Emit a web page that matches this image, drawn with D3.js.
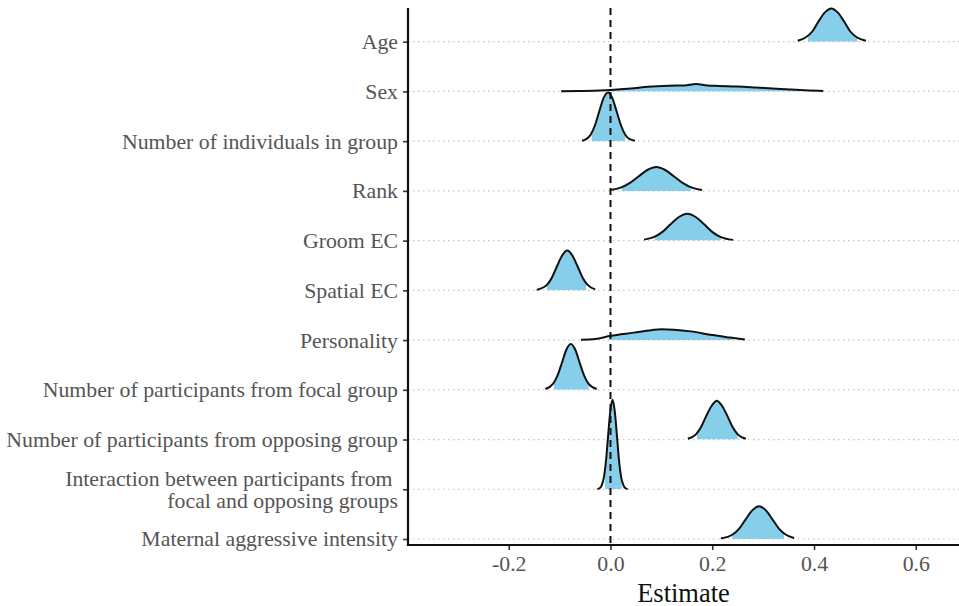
<!DOCTYPE html>
<html>
<head>
<meta charset="utf-8">
<script src="https://cdn.jsdelivr.net/npm/d3@7"></script>
<style>
body { margin:0; background:#fff; }
text { font-family:"Liberation Serif","Times New Roman",serif; }
</style>
</head>
<body>
<svg></svg>
<script>
// rows, top to bottom
var categories = [
  "Age",
  "Sex",
  "Number of individuals in group",
  "Rank",
  "Groom EC",
  "Spatial EC",
  "Personality",
  "Number of participants from focal group",
  "Number of participants from opposing group",
  "Interaction between participants from \nfocal and opposing groups",
  "Maternal aggressive intensity"
];

// density outline: estimate values and heights (in rows)
var densityX = [
  [0.368,0.384,0.397,0.409,0.4215,0.434,0.4465,0.459,0.471,0.484,0.502],
  [-0.097,-0.06,-0.02,0.0,0.04,0.074,0.115,0.145,0.168,0.19,0.213,0.249,0.285,0.318,0.353,0.39,0.418],
  [-0.056,-0.047,-0.039,-0.0305,-0.022,-0.0135,-0.005,0.0035,0.012,0.0205,0.029,0.037,0.048],
  [0.0,0.02,0.0375,0.055,0.0725,0.09,0.1075,0.125,0.1425,0.16,0.18],
  [0.066,0.085,0.1015,0.118,0.1345,0.151,0.1675,0.184,0.2005,0.217,0.241],
  [-0.145,-0.125,-0.115,-0.105,-0.095,-0.085,-0.075,-0.065,-0.055,-0.045,-0.03],
  [-0.058,-0.03,0.0,0.046,0.08,0.10,0.125,0.158,0.2,0.235,0.264],
  [-0.128,-0.113,-0.104,-0.095,-0.087,-0.078,-0.069,-0.061,-0.052,-0.043,-0.027],
  [0.152,0.168,0.178,0.188,0.199,0.209,0.219,0.230,0.240,0.250,0.266],
  [-0.026,-0.0215,-0.01725,-0.013,-0.00875,-0.0045,-0.00025,0.004,0.00825,0.0125,0.01675,0.021,0.0255,0.0295,0.034],
  [0.217,0.24,0.253,0.266,0.279,0.292,0.305,0.318,0.331,0.344,0.361]
];
var densityH = [
  [0.02,0.09,0.21,0.41,0.59,0.67,0.59,0.41,0.21,0.09,0.02],
  [0.005,0.01,0.02,0.03,0.06,0.095,0.115,0.12,0.15,0.12,0.11,0.10,0.08,0.06,0.04,0.02,0.008],
  [0.01,0.045,0.13,0.32,0.60,0.87,0.98,0.87,0.60,0.32,0.13,0.045,0.01],
  [0.02,0.065,0.155,0.29,0.42,0.48,0.42,0.29,0.155,0.065,0.02],
  [0.02,0.07,0.17,0.33,0.475,0.54,0.475,0.33,0.17,0.07,0.015],
  [0.01,0.11,0.26,0.49,0.70,0.80,0.70,0.49,0.26,0.11,0.02],
  [0.005,0.02,0.085,0.15,0.20,0.22,0.21,0.175,0.10,0.05,0.01],
  [0.015,0.12,0.29,0.56,0.80,0.92,0.80,0.56,0.29,0.12,0.015],
  [0.015,0.105,0.25,0.47,0.68,0.78,0.68,0.47,0.25,0.105,0.015],
  [0.003,0.02,0.08,0.24,0.58,1.10,1.58,1.80,1.58,1.10,0.58,0.24,0.08,0.02,0.003],
  [0.01,0.09,0.21,0.40,0.58,0.66,0.58,0.40,0.21,0.09,0.02]
];

// shaded interval of each ridge
var fillLow  = [0.388,0.0,-0.037,0.022,0.0875,-0.125,-0.003,-0.111,0.17,-0.011,0.239];
var fillHigh = [0.485,0.37,0.029,0.158,0.217,-0.048,0.24,-0.043,0.25,0.022,0.341];

var xTicks = [-0.2,0.0,0.2,0.4,0.6];

var screen = { width:959, height:606 };

var svg = d3.select("svg")
            .attr("width",screen.width)
            .attr("height",screen.height);

var panel = { left:408, right:959, top:8, bottom:545 };

var xScale = d3.scaleLinear()
               .domain([-0.398,0.685])
               .range([panel.left,panel.right]);

var yScale = d3.scalePoint()
               .domain(categories)
               .range([41.7,539]);

var rowStep = yScale.step();
var hScale = d3.scaleLinear().domain([0,1]).range([0,rowStep]);

// dotted grid lines at each baseline
svg.append("g")
   .selectAll("line")
   .data(categories)
   .enter()
   .append("line")
   .attr("x1",panel.left)
   .attr("x2",panel.right)
   .attr("y1",function(d){return yScale(d);})
   .attr("y2",function(d){return yScale(d);})
   .attr("stroke","#c4c4c4")
   .attr("stroke-width",1.2)
   .attr("stroke-dasharray","1.5,3.5");

var defs = svg.append("defs");

var ridgeData = categories.map(function(c,i){
  return {
    cat:c, i:i,
    pts:densityX[i].map(function(x,j){return [x,densityH[i][j]];})
  };
});

ridgeData.forEach(function(r){
  var base = yScale(r.cat);
  defs.append("clipPath")
      .attr("id","clip"+r.i)
      .append("rect")
      .attr("x",xScale(fillLow[r.i]))
      .attr("width",xScale(fillHigh[r.i])-xScale(fillLow[r.i]))
      .attr("y",base-rowStep*2.5)
      .attr("height",rowStep*2.5);
});

// draw bottom rows first so upper ridges sit on top
var ridges = svg.append("g")
                .selectAll("g")
                .data(ridgeData.slice().reverse())
                .enter()
                .append("g");

ridges.append("path")
      .attr("clip-path",function(d){return "url(#clip"+d.i+")";})
      .attr("fill","#87CEEB")
      .attr("d",function(d){
        var base = yScale(d.cat);
        return d3.area()
                 .x(function(p){return xScale(p[0]);})
                 .y0(base)
                 .y1(function(p){return base-hScale(p[1]);})
                 .curve(d3.curveMonotoneX)(d.pts);
      });

ridges.append("path")
      .attr("fill","none")
      .attr("stroke","#111")
      .attr("stroke-width",2)
      .attr("d",function(d){
        var base = yScale(d.cat);
        return d3.line()
                 .x(function(p){return xScale(p[0]);})
                 .y(function(p){return base-hScale(p[1]);})
                 .curve(d3.curveMonotoneX)(d.pts);
      });

// zero line
svg.append("line")
   .attr("x1",xScale(0))
   .attr("x2",xScale(0))
   .attr("y1",panel.top)
   .attr("y2",panel.bottom)
   .attr("stroke","#111")
   .attr("stroke-width",2)
   .attr("stroke-dasharray","7,5");

// axes
var yAxis = d3.axisLeft(yScale).tickSize(5).tickPadding(5).tickSizeOuter(0);
var yG = svg.append("g")
            .attr("transform","translate("+panel.left+",0)")
            .call(yAxis);
yG.select(".domain").remove();
yG.selectAll(".tick line").attr("stroke","#333").attr("stroke-width",1.6);
yG.selectAll(".tick text")
  .attr("fill","#555")
  .style("font-size","21.8px")
  .style("white-space","pre")
  .each(function(d){
    var lines = d.split("\n");
    if (lines.length < 2) return;
    var t = d3.select(this).text("").attr("dy",null);
    t.append("tspan").attr("x",-10).attr("dy","-0.19em").text(lines[0]);
    t.append("tspan").attr("x",-10).attr("dy","1.01em").text(lines[1]);
  });

var xAxis = d3.axisBottom(xScale)
              .tickValues(xTicks)
              .tickSize(5)
              .tickPadding(6)
              .tickSizeOuter(0)
              .tickFormat(function(d){return d.toFixed(1);});
var xG = svg.append("g")
            .attr("transform","translate(0,"+panel.bottom+")")
            .call(xAxis);
xG.select(".domain").remove();
xG.selectAll(".tick line").attr("stroke","#333").attr("stroke-width",1.6);
xG.selectAll(".tick text").attr("fill","#555").style("font-size","21.8px");

// axis lines
svg.append("line")
   .attr("x1",panel.left).attr("x2",panel.left)
   .attr("y1",panel.top).attr("y2",panel.bottom+1)
   .attr("stroke","#111").attr("stroke-width",2.2);
svg.append("line")
   .attr("x1",panel.left-1).attr("x2",panel.right)
   .attr("y1",panel.bottom).attr("y2",panel.bottom)
   .attr("stroke","#111").attr("stroke-width",2.2);

svg.append("text")
   .attr("x",(panel.left+panel.right)/2)
   .attr("y",601.5)
   .attr("text-anchor","middle")
   .style("font-size","26.5px")
   .attr("fill","#111")
   .text("Estimate");
</script>
</body>
</html>
